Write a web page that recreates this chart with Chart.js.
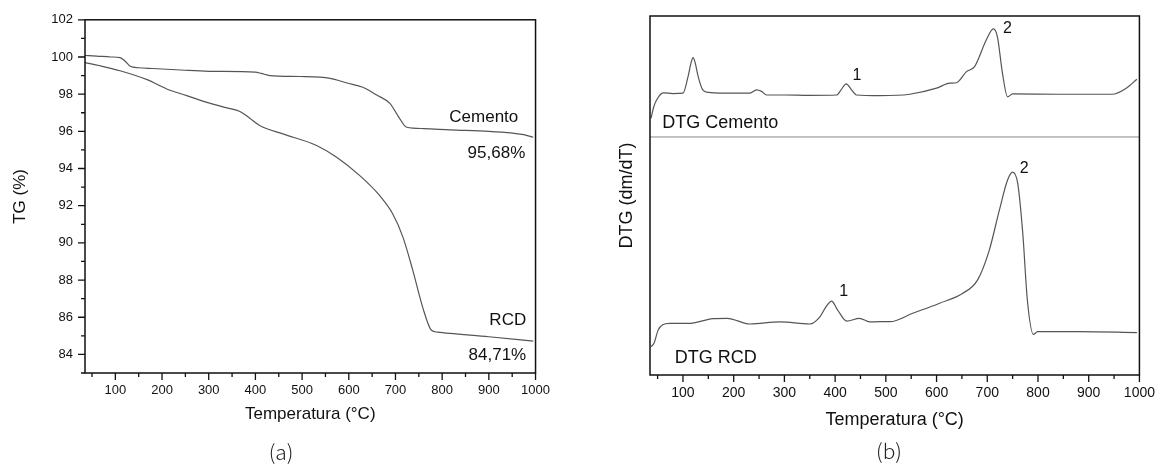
<!DOCTYPE html>
<html>
<head>
<meta charset="utf-8">
<script src="https://cdn.jsdelivr.net/npm/chart.js@4.4.1/dist/chart.umd.min.js"></script>
<style>
  body { margin: 0; background: #fff; width: 1165px; height: 465px; position: relative; overflow: hidden; }
  .grafico { position: absolute; top: 0; height: 440px; }
  #caixaA { left: 0; width: 560px; }
  #caixaB { left: 570px; width: 595px; }
  .legenda {
    position: absolute;
    font-family: "Noto Sans CJK KR", "DejaVu Sans", sans-serif;
    font-weight: 300;
    font-size: 21px;
    color: #222;
    transform: translate(-50%, -50%);
  }
</style>
</head>
<body>
<div class="grafico" id="caixaA"><canvas id="graficoTG"></canvas></div>
<div class="grafico" id="caixaB"><canvas id="graficoDTG"></canvas></div>
<div class="legenda" style="left:281px; top:451px;">(a)</div>
<div class="legenda" style="left:889px; top:450px;">(b)</div>

<script>
// ticks
const ticksTemperatura = [100, 200, 300, 400, 500, 600, 700, 800, 900, 1000];
const ticksTG = [84, 86, 88, 90, 92, 94, 96, 98, 100, 102];

// (a) TG
const tempTGCemento = [35, 60, 90, 110, 120, 132, 150, 180, 240, 300, 400, 412, 431, 496, 560, 596, 630, 660, 688, 705, 724, 760, 816, 900, 951, 975, 995];
const tgCemento = [100.08, 100.05, 100.0, 99.97, 99.8, 99.5, 99.42, 99.38, 99.3, 99.23, 99.18, 99.12, 99.0, 98.95, 98.85, 98.6, 98.37, 97.95, 97.5, 96.85, 96.22, 96.15, 96.08, 96.0, 95.9, 95.82, 95.68];

const tempTGRcd = [35, 67, 110, 168, 210, 253, 296, 339, 367, 388, 409, 459, 531, 574, 623, 666, 694, 716, 737, 758, 777, 790, 816, 900, 995];
const tgRcd = [99.7, 99.53, 99.26, 98.78, 98.28, 97.92, 97.56, 97.26, 97.07, 96.7, 96.31, 95.86, 95.24, 94.61, 93.63, 92.55, 91.57, 90.31, 88.53, 86.56, 85.3, 85.2, 85.13, 84.95, 84.71];

// (b) DTG (unidades arbitrárias)
const tempDTGCemento = [37, 42, 48, 61, 80, 100, 110, 116, 120, 124, 130, 139, 150, 179, 232, 245, 255, 265, 300, 350, 403, 412, 422, 432, 442, 488, 547, 600, 626, 639, 659, 675, 698, 712, 720, 730, 740, 750, 842, 946, 974, 995];
const dtgCemento = [71.5, 74.5, 76.6, 78.6, 78.4, 78.5, 83.1, 87.0, 88.4, 87.0, 83.1, 79.4, 78.7, 78.5, 78.5, 79.4, 79.0, 78.0, 78.0, 77.9, 78.0, 79.5, 81.1, 79.5, 78.0, 77.8, 78.2, 79.9, 81.3, 81.4, 84.5, 85.9, 93.3, 96.4, 94.2, 84.0, 77.5, 78.3, 78.2, 78.2, 79.9, 82.4];

const tempDTGRcd = [37, 43, 51, 60, 74, 114, 159, 187, 232, 291, 350, 370, 382, 393, 405, 423, 448, 468, 488, 508, 553, 606, 651, 681, 704, 724, 740, 750, 760, 770, 779, 791, 799, 882, 995];
const dtgRcd = [7.9, 8.9, 12.5, 14.0, 14.4, 14.4, 15.7, 15.8, 14.2, 14.8, 14.2, 16.2, 19.0, 20.6, 18.1, 15.0, 15.8, 14.8, 14.85, 14.85, 17.2, 20.0, 22.7, 26.5, 34.8, 46.0, 54.3, 56.5, 53.4, 39.5, 20.9, 11.3, 12.1, 12.1, 11.8];

const divisoriaDTG = 66.3;

const textosTG = [
  { texto: 'Cemento', x: 963, y: 96.75 },
  { texto: '95,68%', x: 978, y: 94.82 },
  { texto: 'RCD', x: 980, y: 85.82 },
  { texto: '84,71%', x: 980, y: 83.95 }
];
const textosDTG = [
  { texto: '1', x: 443, y: 83.3, alinhar: 'center', tam: 16 },
  { texto: '2', x: 740, y: 96.4, alinhar: 'center', tam: 16 },
  { texto: '1', x: 417, y: 23.1, alinhar: 'center', tam: 16 },
  { texto: '2', x: 773, y: 57.4, alinhar: 'center', tam: 16 },
  { texto: 'DTG Cemento', x: 59, y: 70.2, alinhar: 'left', tam: 18 },
  { texto: 'DTG RCD', x: 84, y: 4.7, alinhar: 'left', tam: 18 }
];

Chart.defaults.font.family = '"Liberation Sans", Arial, sans-serif';
Chart.defaults.color = '#111';

function pontos(xs, ys) {
  return xs.map((x, i) => ({ x: x, y: ys[i] }));
}

// caixa preta + ticks maiores/menores
const moldura = {
  id: 'moldura',
  afterDraw(chart, args, opts) {
    const { ctx, chartArea: a, scales } = chart;
    ctx.save();
    ctx.strokeStyle = '#111';
    ctx.lineWidth = 1.5;
    ctx.strokeRect(a.left, a.top, a.right - a.left, a.bottom - a.top);
    ctx.lineWidth = 1.3;
    ctx.beginPath();
    for (let v = 50; v <= 1000; v += 50) {
      const px = scales.x.getPixelForValue(v);
      const len = v % 100 === 0 ? 7 : 4;
      ctx.moveTo(px, a.bottom);
      ctx.lineTo(px, a.bottom + len);
    }
    if (opts.ticksY) {
      for (let v = 83; v <= 102; v += 1) {
        const py = scales.y.getPixelForValue(v);
        const len = v % 2 === 0 ? 7 : 4;
        ctx.moveTo(a.left, py);
        ctx.lineTo(a.left - len, py);
      }
    }
    ctx.stroke();
    ctx.restore();
  }
};

const anotacoes = {
  id: 'anotacoes',
  afterDatasetsDraw(chart, args, opts) {
    const { ctx, scales } = chart;
    ctx.save();
    ctx.fillStyle = '#111';
    ctx.textBaseline = 'middle';
    opts.textos.forEach(t => {
      ctx.font = (t.tam || 17) + 'px "Liberation Sans", Arial, sans-serif';
      ctx.textAlign = t.alinhar || 'right';
      ctx.fillText(t.texto, scales.x.getPixelForValue(t.x), scales.y.getPixelForValue(t.y));
    });
    ctx.restore();
  }
};

function eixoX(titulo, tamTick, tamTitulo, padTitulo, altura) {
  return {
    type: 'linear',
    min: 35,
    max: 1000,
    afterBuildTicks: s => { s.ticks = ticksTemperatura.map(v => ({ value: v })); },
    afterFit: s => { s.height = altura; },
    grid: { display: false, drawTicks: false },
    border: { display: false },
    ticks: { font: { size: tamTick }, padding: 10, maxRotation: 0, callback: v => String(v) },
    title: { display: true, text: titulo, font: { size: tamTitulo }, padding: { top: 0, bottom: padTitulo } }
  };
}

function gerarGraficoTG() {
  const ctx = document.getElementById('graficoTG').getContext('2d');
  new Chart(ctx, {
    type: 'line',
    data: {
      datasets: [
        { data: pontos(tempTGCemento, tgCemento), borderColor: '#555', borderWidth: 1.2, pointRadius: 0, cubicInterpolationMode: 'monotone' },
        { data: pontos(tempTGRcd, tgRcd), borderColor: '#555', borderWidth: 1.2, pointRadius: 0, cubicInterpolationMode: 'monotone' }
      ]
    },
    options: {
      responsive: true,
      maintainAspectRatio: false,
      animation: false,
      layout: { padding: { top: 19, right: 24, left: 0, bottom: 0 } },
      plugins: {
        legend: { display: false },
        tooltip: { enabled: false },
        moldura: { ticksY: true },
        anotacoes: { textos: textosTG }
      },
      scales: {
        x: eixoX('Temperatura (°C)', 13, 17, 15, 67),
        y: {
          min: 83,
          max: 102,
          afterBuildTicks: s => { s.ticks = ticksTG.map(v => ({ value: v })); },
          afterFit: s => { s.width = 85; },
          grid: { display: false, drawTicks: false },
          border: { display: false },
          ticks: { font: { size: 13 }, padding: 12 },
          title: { display: true, text: 'TG (%)', font: { size: 17 }, padding: { top: 10, bottom: 0 } }
        }
      }
    },
    plugins: [moldura, anotacoes]
  });
}

function gerarGraficoDTG() {
  const ctx = document.getElementById('graficoDTG').getContext('2d');
  new Chart(ctx, {
    type: 'line',
    data: {
      datasets: [
        { data: pontos(tempDTGCemento, dtgCemento), borderColor: '#555', borderWidth: 1.2, pointRadius: 0, cubicInterpolationMode: 'monotone' },
        { data: pontos(tempDTGRcd, dtgRcd), borderColor: '#555', borderWidth: 1.2, pointRadius: 0, cubicInterpolationMode: 'monotone' },
        { data: [{ x: 35, y: divisoriaDTG }, { x: 1000, y: divisoriaDTG }], borderColor: '#888', borderWidth: 1, pointRadius: 0 }
      ]
    },
    options: {
      responsive: true,
      maintainAspectRatio: false,
      animation: false,
      layout: { padding: { top: 16, right: 25, left: 0, bottom: 0 } },
      plugins: {
        legend: { display: false },
        tooltip: { enabled: false },
        moldura: { ticksY: false },
        anotacoes: { textos: textosDTG }
      },
      scales: {
        x: eixoX('Temperatura (°C)', 14, 18, 9, 65),
        y: {
          min: 0,
          max: 100,
          afterFit: s => { s.width = 80; },
          grid: { display: false, drawTicks: false },
          border: { display: false },
          ticks: { display: false },
          title: { display: true, text: 'DTG (dm/dT)', font: { size: 18 }, padding: { top: 46, bottom: 0 } }
        }
      }
    },
    plugins: [moldura, anotacoes]
  });
}

gerarGraficoTG();
gerarGraficoDTG();
</script>
</body>
</html>
